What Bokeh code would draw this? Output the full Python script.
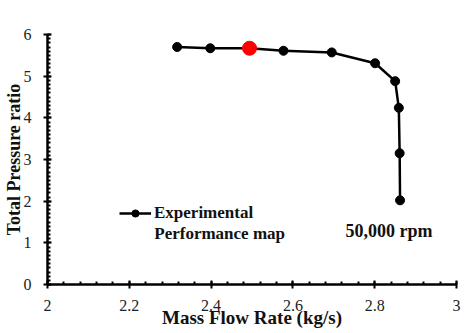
from bokeh.plotting import figure
from bokeh.models import (SingleIntervalTicker, NumeralTickFormatter, Legend, LegendItem,
                          Label, Range1d)
from bokeh.embed import file_html
from bokeh.resources import INLINE

# Data
mass_flow = [2.317, 2.398, 2.494, 2.577, 2.695, 2.801, 2.850, 2.859, 2.861, 2.862]
pressure_ratio = [5.70, 5.67, 5.67, 5.61, 5.57, 5.31, 4.88, 4.24, 3.15, 2.02]
highlight_flow = [2.494]
highlight_ratio = [5.67]

legend_line1 = "Experimental"
legend_line2 = "Performance map"
speed_label = "50,000 rpm"
x_title = "Mass Flow Rate (kg/s)"
y_title = "Total Pressure ratio"

FONT = "Liberation Serif"

p = figure(width=474, height=333, output_backend="svg", toolbar_location=None,
           x_range=Range1d(2, 3), y_range=Range1d(0, 6),
           min_border_left=46, min_border_right=18, min_border_top=34, min_border_bottom=49)
p.outline_line_color = None
p.xgrid.visible = False
p.ygrid.visible = False
p.background_fill_color = "white"
p.border_fill_color = "white"

line_r = p.line(mass_flow, pressure_ratio, line_color="black", line_width=2.5)
pts_r = p.scatter(mass_flow, pressure_ratio, size=9, fill_color="black", line_color="black")
p.scatter(highlight_flow, highlight_ratio, size=14, fill_color="#ff0000", line_color="#ff0000")

xa = p.xaxis[0]
xa.ticker = SingleIntervalTicker(interval=0.2, num_minor_ticks=5)
xa.formatter = NumeralTickFormatter(format="0.[0]")
ya = p.yaxis[0]
ya.ticker = SingleIntervalTicker(interval=1, num_minor_ticks=10)

for ax in (xa, ya):
    ax.axis_line_width = 2.5
    ax.axis_line_color = "black"
    ax.major_tick_line_width = 2
    ax.minor_tick_line_width = 2
    ax.major_tick_in = 4
    ax.major_tick_out = 4
    ax.minor_tick_in = 3
    ax.minor_tick_out = 0
    ax.major_label_text_font = FONT
    ax.major_label_text_font_size = "16px"
    ax.major_label_text_color = "#222222"
    ax.axis_label_text_font = FONT
    ax.axis_label_text_font_style = "bold"
    ax.axis_label_text_color = "#111111"

xa.axis_label = x_title
xa.axis_label_text_font_size = "19px"
xa.major_label_standoff = 11
xa.axis_label_standoff = -7
ya.axis_label = y_title
ya.axis_label_text_font_size = "18px"
ya.major_label_standoff = 12
ya.axis_label_standoff = -3

legend = Legend(items=[LegendItem(label=legend_line1, renderers=[line_r, pts_r])],
                location=(72, 61), glyph_width=32, glyph_height=18,
                label_text_font=FONT, label_text_font_style="bold",
                label_text_font_size="17px", label_text_color="#111111",
                label_standoff=3, label_height=18,
                border_line_color=None, background_fill_alpha=0,
                padding=0, margin=0, spacing=0)
p.add_layout(legend)

p.add_layout(Label(x=2.261, y=1.22, text=legend_line2, text_font=FONT,
                   text_font_style="bold", text_font_size="17px", text_color="#111111",
                   text_align="left", text_baseline="middle"))

p.add_layout(Label(x=2.835, y=1.28, text=speed_label, text_font=FONT,
                   text_font_style="bold", text_font_size="18px", text_color="#111111",
                   text_align="center", text_baseline="middle"))

open("out.html", "w").write(file_html(p, INLINE))
